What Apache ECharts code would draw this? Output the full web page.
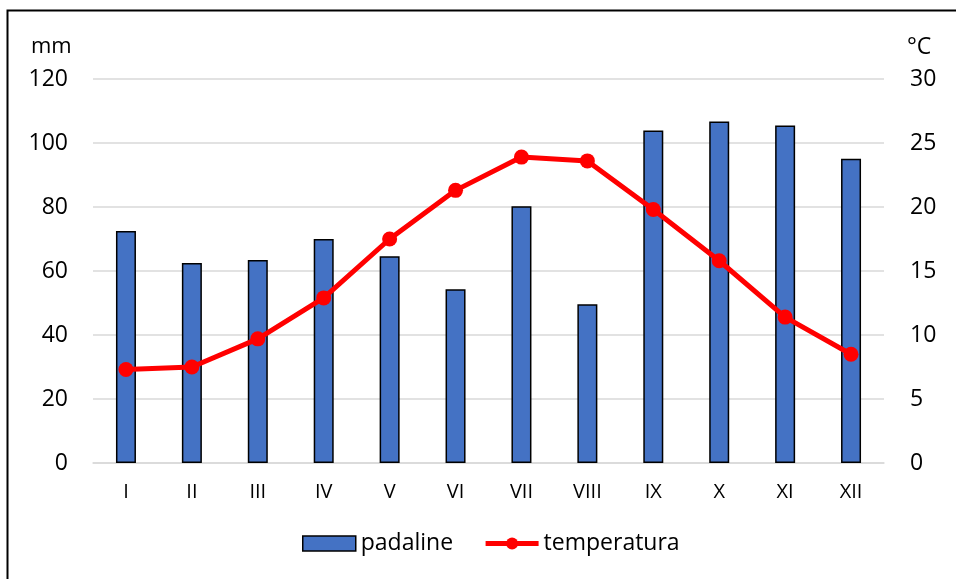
<!DOCTYPE html>
<html><head><meta charset="utf-8">
<script src="https://cdn.jsdelivr.net/npm/echarts@6/dist/echarts.min.js"></script>
<style>html,body{margin:0;padding:0;background:#fff}#c{width:956px;height:579px}</style>
</head><body><div id="c"></div>
<script>
var categories = ['I','II','III','IV','V','VI','VII','VIII','IX','X','XI','XII'];
var padaline = [72.5, 62.5, 63.4, 70.0, 64.6, 54.3, 80.2, 49.6, 103.9, 106.7, 105.5, 95.1];
var temperatura = [7.3, 7.5, 9.7, 12.9, 17.5, 21.3, 23.9, 23.6, 19.8, 15.8, 11.4, 8.5];
var leftTicks = [0, 20, 40, 60, 80, 100, 120];
var rightTicks = [0, 5, 10, 15, 20, 25, 30];

var FONT = 'Open Sans';
var chart = echarts.init(document.getElementById('c'));
chart.setOption({
  animation: false,
  backgroundColor: '#fff',
  textStyle: {fontFamily: FONT},
  graphic: [
    {type: 'rect', shape: {x: 7.5, y: 10.5, width: 960, height: 580}, style: {fill: 'none', stroke: '#000', lineWidth: 2}, z: 100},
    {type: 'text', left: 31, top: 36, style: {text: 'mm', font: '22px "Open Sans"', fill: '#000'}},
    {type: 'text', left: 907, top: 36, style: {text: '°C', font: '23px "Open Sans"', fill: '#000'}}
  ],
  grid: {left: 93, right: 72, top: 79, bottom: 116},
  legend: {
    bottom: 19, left: 297, itemGap: 30, itemWidth: 53, itemHeight: 15,
    textStyle: {fontSize: 23, color: '#000', fontFamily: FONT},
    data: [
      {name: 'padaline', icon: 'rect', itemStyle: {color: '#4472C4', borderColor: '#000', borderWidth: 1.5}},
      {name: 'temperatura', lineStyle: {width: 5, color: '#ff0000'}, itemStyle: {color: '#ff0000'}}
    ]
  },
  xAxis: {
    type: 'category', data: categories,
    axisLine: {show: true, lineStyle: {color: '#d9d9d9', width: 1.5}},
    axisTick: {show: false},
    axisLabel: {color: '#000', fontSize: 20, margin: 19, fontFamily: FONT}
  },
  yAxis: [
    {type: 'value', min: leftTicks[0], max: leftTicks[leftTicks.length-1], interval: 20,
     axisLine: {show: false}, axisTick: {show: false},
     axisLabel: {color: '#000', fontSize: 23, margin: 25, fontFamily: FONT},
     splitLine: {lineStyle: {color: '#d9d9d9', width: 1.5}}},
    {type: 'value', min: rightTicks[0], max: rightTicks[rightTicks.length-1], interval: 5,
     axisLine: {show: false}, axisTick: {show: false},
     axisLabel: {color: '#000', fontSize: 23, margin: 26, fontFamily: FONT},
     splitLine: {show: false}}
  ],
  series: [
    {name: 'padaline', type: 'bar', data: padaline, yAxisIndex: 0, barWidth: 20,
     itemStyle: {color: '#4472C4', borderColor: '#000', borderWidth: 1.5}},
    {name: 'temperatura', type: 'line', data: temperatura, yAxisIndex: 1,
     symbol: 'circle', symbolSize: 15,
     lineStyle: {color: '#ff0000', width: 5},
     itemStyle: {color: '#ff0000'}}
  ]
});
</script></body></html>
